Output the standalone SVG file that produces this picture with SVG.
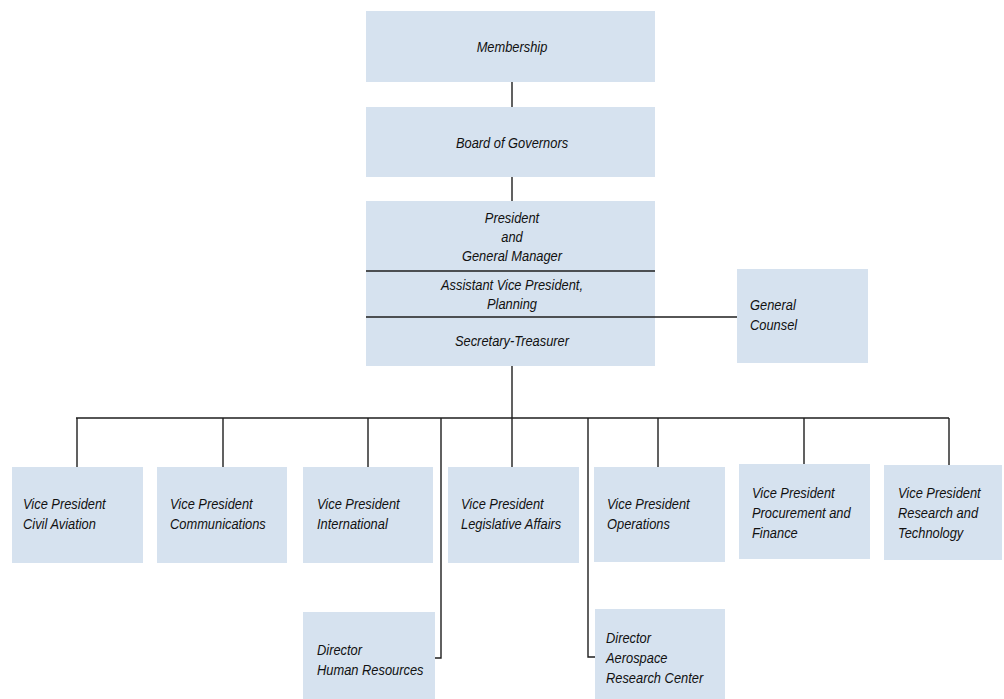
<svg xmlns="http://www.w3.org/2000/svg" width="1004" height="699" viewBox="0 0 1004 699">
<style>
.box{fill:#d6e2ef}
.t{font-family:"Liberation Sans",Arial,sans-serif;font-style:italic;font-size:15.5px;fill:#111111}
.c{text-anchor:middle}
.ln{stroke:#1e1e1e;stroke-width:1.4;fill:none}
</style>
<rect width="1004" height="699" fill="#ffffff"/>
<g id="connectors">
<line class="ln" x1="512" y1="82" x2="512" y2="107"/>
<line class="ln" x1="512" y1="177" x2="512" y2="201"/>
<line class="ln" x1="512" y1="366" x2="512" y2="467"/>
<line class="ln" x1="76" y1="418" x2="949" y2="418"/>
<line class="ln" x1="77" y1="418" x2="77" y2="467"/>
<line class="ln" x1="223" y1="418" x2="223" y2="467"/>
<line class="ln" x1="368" y1="418" x2="368" y2="467"/>
<line class="ln" x1="658" y1="418" x2="658" y2="467"/>
<line class="ln" x1="804" y1="418" x2="804" y2="464"/>
<line class="ln" x1="949" y1="418" x2="949" y2="465"/>
<polyline class="ln" points="441,418 441,658 435,658"/>
<polyline class="ln" points="588,418 588,657 595,657"/>
<line class="ln" x1="655" y1="317" x2="737" y2="317"/>
</g>
<g id="membership">
<rect class="box" x="366" y="11" width="289" height="71"/>
<text class="t c" transform="matrix(0.83 0 0 1 512 52)">Membership</text>
</g>
<g id="board">
<rect class="box" x="366" y="107" width="289" height="70"/>
<text class="t c" transform="matrix(0.83 0 0 1 512 148)">Board of Governors</text>
</g>
<g id="president">
<rect class="box" x="366" y="201" width="289" height="165"/>
<line class="ln" x1="366" y1="271" x2="655" y2="271"/>
<line class="ln" x1="366" y1="317" x2="655" y2="317"/>
<text class="t c" transform="matrix(0.83 0 0 1 512 223)">President</text>
<text class="t c" transform="matrix(0.83 0 0 1 512 242)">and</text>
<text class="t c" transform="matrix(0.83 0 0 1 512 261)">General Manager</text>
<text class="t c" transform="matrix(0.83 0 0 1 512 290)">Assistant Vice President,</text>
<text class="t c" transform="matrix(0.83 0 0 1 512 309)">Planning</text>
<text class="t c" transform="matrix(0.83 0 0 1 512 346)">Secretary-Treasurer</text>
</g>
<g id="counsel">
<rect class="box" x="737" y="269" width="131" height="94"/>
<text class="t" transform="matrix(0.83 0 0 1 750 310)">General</text>
<text class="t" transform="matrix(0.83 0 0 1 750 330)">Counsel</text>
</g>
<g id="vp-civil">
<rect class="box" x="12" y="467" width="131" height="96"/>
<text class="t" transform="matrix(0.83 0 0 1 23 509)">Vice President</text>
<text class="t" transform="matrix(0.83 0 0 1 23 529)">Civil Aviation</text>
</g>
<g id="vp-comm">
<rect class="box" x="157" y="467" width="130" height="96"/>
<text class="t" transform="matrix(0.83 0 0 1 170 509)">Vice President</text>
<text class="t" transform="matrix(0.83 0 0 1 170 529)">Communications</text>
</g>
<g id="vp-intl">
<rect class="box" x="303" y="467" width="130" height="96"/>
<text class="t" transform="matrix(0.83 0 0 1 317 509)">Vice President</text>
<text class="t" transform="matrix(0.83 0 0 1 317 529)">International</text>
</g>
<g id="vp-leg">
<rect class="box" x="448" y="467" width="131" height="96"/>
<text class="t" transform="matrix(0.83 0 0 1 461 509)">Vice President</text>
<text class="t" transform="matrix(0.83 0 0 1 461 529)">Legislative Affairs</text>
</g>
<g id="vp-ops">
<rect class="box" x="594" y="467" width="131" height="95"/>
<text class="t" transform="matrix(0.83 0 0 1 607 509)">Vice President</text>
<text class="t" transform="matrix(0.83 0 0 1 607 529)">Operations</text>
</g>
<g id="vp-proc">
<rect class="box" x="739" y="464" width="131" height="95"/>
<text class="t" transform="matrix(0.83 0 0 1 752 498)">Vice President</text>
<text class="t" transform="matrix(0.83 0 0 1 752 518)">Procurement and</text>
<text class="t" transform="matrix(0.83 0 0 1 752 538)">Finance</text>
</g>
<g id="vp-research">
<rect class="box" x="884" y="465" width="118" height="95"/>
<text class="t" transform="matrix(0.83 0 0 1 898 498)">Vice President</text>
<text class="t" transform="matrix(0.83 0 0 1 898 518)">Research and</text>
<text class="t" transform="matrix(0.83 0 0 1 898 538)">Technology</text>
</g>
<g id="dir-hr">
<rect class="box" x="303" y="612" width="132" height="87"/>
<text class="t" transform="matrix(0.83 0 0 1 317 655)">Director</text>
<text class="t" transform="matrix(0.83 0 0 1 317 675)">Human Resources</text>
</g>
<g id="dir-aero">
<rect class="box" x="595" y="609" width="130" height="90"/>
<text class="t" transform="matrix(0.83 0 0 1 606 643)">Director</text>
<text class="t" transform="matrix(0.83 0 0 1 606 663)">Aerospace</text>
<text class="t" transform="matrix(0.83 0 0 1 606 683)">Research Center</text>
</g>
</svg>
